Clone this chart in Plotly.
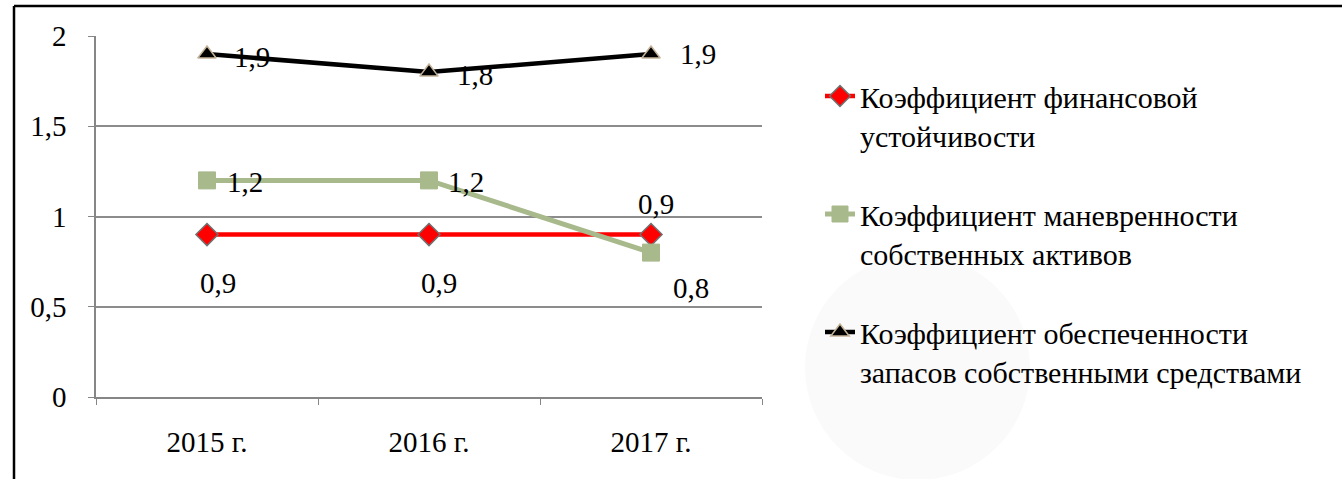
import plotly.graph_objects as go

categories = ["2015 г.", "2016 г.", "2017 г."]
fin_stability = [0.9, 0.9, 0.9]
maneuverability = [1.2, 1.2, 0.8]
inventory_cover = [1.9, 1.8, 1.9]

names = [
    "Коэффициент финансовой<br>устойчивости",
    "Коэффициент маневренности<br>собственных активов",
    "Коэффициент обеспеченности<br>запасов собственными средствами",
]

FONT = "Liberation Serif, Times New Roman, serif"
FS_LABEL = 29
FS_YTICK = 29
FS_XTICK = 29
FS_LEGEND = 30

W, H = 1342, 479
L, R, T, B = 96, 762, 36, 397  # plot area pixels


def px2x(px):
    return (px - L) / (R - L)


def py2y(py):
    return (B - py) / (B - T)


fig = go.Figure()

fig.add_trace(go.Scatter(
    x=categories, y=fin_stability, mode="lines+markers", name=names[0],
    line=dict(color="#FF0000", width=4.5),
    marker=dict(symbol="diamond", size=17, color="#FF0000",
                line=dict(color="#707070", width=1.5)),
    legend="legend",
))
fig.add_trace(go.Scatter(
    x=categories, y=maneuverability, mode="lines+markers", name=names[1],
    line=dict(color="#A8B98C", width=5),
    marker=dict(symbol="square", size=17, color="#A8B98C",
                line=dict(color="#A8B98C", width=1)),
    legend="legend2",
))
fig.add_trace(go.Scatter(
    x=categories, y=inventory_cover, mode="lines+markers", name=names[2],
    line=dict(color="#000000", width=4.5),
    marker=dict(symbol="triangle-up", size=16, color="#000000",
                line=dict(color="#C4B49A", width=1.5)),
    legend="legend3",
))


def lab(v):
    return f"{v:.1f}".replace(".", ",")


# data label offsets (pixels) per point
offsets = [
    (fin_stability, [(11, -48), (10, -48), (5, 31)]),
    (maneuverability, [(38, -2), (37, -2), (40, -35)]),
    (inventory_cover, [(45, -3), (46, -3), (47, 0)]),
]
for series, offs in offsets:
    for cat, v, (dx, dy) in zip(categories, series, offs):
        fig.add_annotation(x=cat, y=v, text=lab(v), showarrow=False,
                           xshift=dx, yshift=dy,
                           font=dict(family=FONT, size=FS_LABEL, color="#000000"))

legend_common = dict(
    font=dict(family=FONT, size=FS_LEGEND, color="#000000"),
    bgcolor="rgba(0,0,0,0)", xanchor="left", yanchor="top",
    itemwidth=30, tracegroupgap=0, valign="top",
)
fig.update_layout(
    showlegend=True,
    legend=dict(x=px2x(820), y=py2y(70), **legend_common),
    legend2=dict(x=px2x(820), y=py2y(188), **legend_common),
    legend3=dict(x=px2x(820), y=py2y(306), **legend_common),
)

fig.update_layout(
    width=W, height=H,
    margin=dict(l=L, r=W - R, t=T, b=H - B, pad=0),
    paper_bgcolor="#FFFFFF", plot_bgcolor="#FFFFFF",
    separators=", ",
    font=dict(family=FONT, size=FS_YTICK, color="#000000"),
    xaxis=dict(
        type="category", tickson="boundaries", ticks="outside", ticklen=6,
        tickcolor="#868686", showline=True, linecolor="#868686", linewidth=1.5,
        showgrid=False, ticklabelstandoff=18,
        tickfont=dict(family=FONT, size=FS_XTICK, color="#000000"),
        range=[-0.5, 2.5],
    ),
    yaxis=dict(
        range=[0, 2], tickvals=[0, 0.5, 1, 1.5, 2], ticks="outside", ticklen=6,
        tickcolor="#868686", showline=True, linecolor="#868686", linewidth=1.5,
        showgrid=True, gridcolor="#8C8C8C", gridwidth=1.5, zeroline=False,
        ticklabelstandoff=16,
        tickfont=dict(family=FONT, size=FS_YTICK, color="#000000"),
    ),
    shapes=[
        dict(type="circle", xref="paper", yref="paper",
             x0=px2x(805), x1=px2x(1030), y0=py2y(480), y1=py2y(255),
             fillcolor="#FAFAFA", line=dict(width=0), layer="below"),
        dict(type="line", xref="paper", yref="paper",
             x0=px2x(14), x1=px2x(1360), y0=py2y(6), y1=py2y(6),
             line=dict(color="#000000", width=2.5)),
        dict(type="line", xref="paper", yref="paper",
             x0=px2x(14), x1=px2x(14), y0=py2y(6), y1=py2y(500),
             line=dict(color="#000000", width=2.5)),
    ],
)

fig.write_html("out.html", config={"displayModeBar": False},
               post_script="document.body.style.margin='0';document.body.style.overflow='hidden';")
